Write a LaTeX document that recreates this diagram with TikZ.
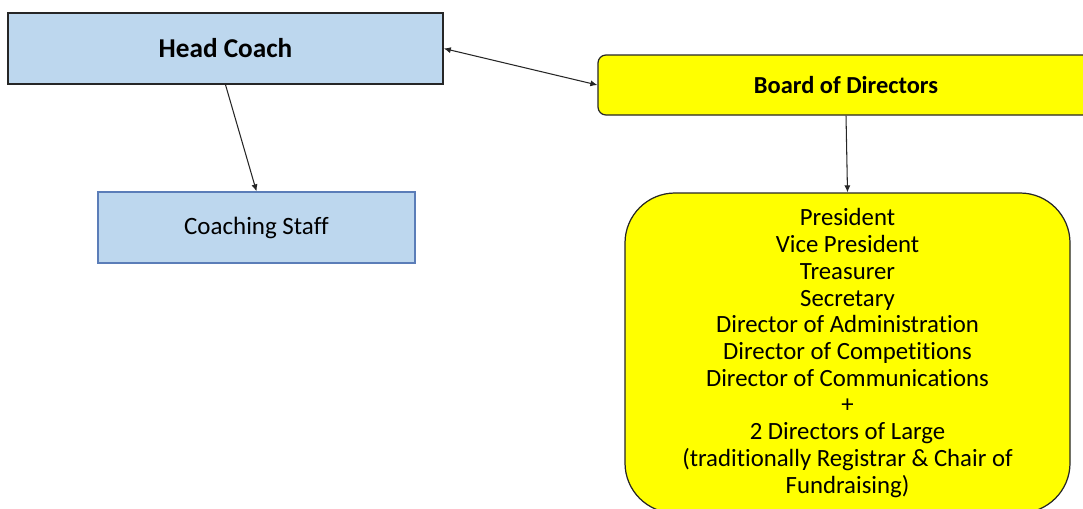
\documentclass[tikz,border=0pt]{standalone}
\usepackage{fontspec}
\setmainfont{Carlito}[Ligatures={NoCommon,NoRare}]
\usepackage{tikz}
\usetikzlibrary{arrows.meta,positioning}
\definecolor{kutuMavi}{HTML}{BDD7EE}
\definecolor{kenarMavi}{HTML}{5B7DB8}
\definecolor{kurulSari}{HTML}{FFFF00}
\definecolor{koyuGri}{HTML}{262626}

\begin{document}
\begin{tikzpicture}[
  coachbox/.style={draw=koyuGri,line width=0.9pt,fill=kutuMavi,minimum width=8.7cm,minimum height=1.42cm,font=\fontsize{15.5}{18}\selectfont\bfseries},
  staffbox/.style={draw=kenarMavi,line width=0.7pt,fill=kutuMavi,minimum width=6.34cm,minimum height=1.42cm,font=\fontsize{14.2}{17}\selectfont},
  boardbox/.style={draw=koyuGri,line width=0.7pt,fill=kurulSari,rounded corners=0.16cm,minimum width=9.92cm,minimum height=1.2cm,font=\fontsize{13.9}{16}\selectfont\bfseries},
  memberbox/.style={draw=koyuGri,line width=0.7pt,fill=kurulSari,rounded corners=1cm,minimum width=8.9cm,minimum height=6.4cm,align=center,font=\fontsize{14.1}{15.2}\selectfont},
  link/.style={koyuGri,line width=0.6pt,-{Latex[length=4pt,width=3.5pt]}}]
\useasboundingbox (0,0) rectangle (21.66,-10.16);
\clip (0,0) rectangle (21.66,-10.16);
\node[coachbox] (hc) at (4.51,-0.97) {Head Coach};
\node[staffbox] (staff) at (5.13,-4.55) {Coaching Staff};
\node[boardbox] (board) at (16.92,-1.70) {Board of Directors};
\node[memberbox] (members) at (16.95,-7.06) {President\\Vice President\\Treasurer\\Secretary\\Director of Administration\\Director of Competitions\\Director of Communications\\+\\2 Directors of Large\\(traditionally Registrar \& Chair of\\Fundraising)};
\draw[link] (hc.south) -- (staff.north);
\draw[link,{Latex[length=4pt,width=3.5pt]}-{Latex[length=4pt,width=3.5pt]}] (hc.east) -- (board.west);
\draw[link] (board.south) -- (members.north);
\end{tikzpicture}
\end{document}
